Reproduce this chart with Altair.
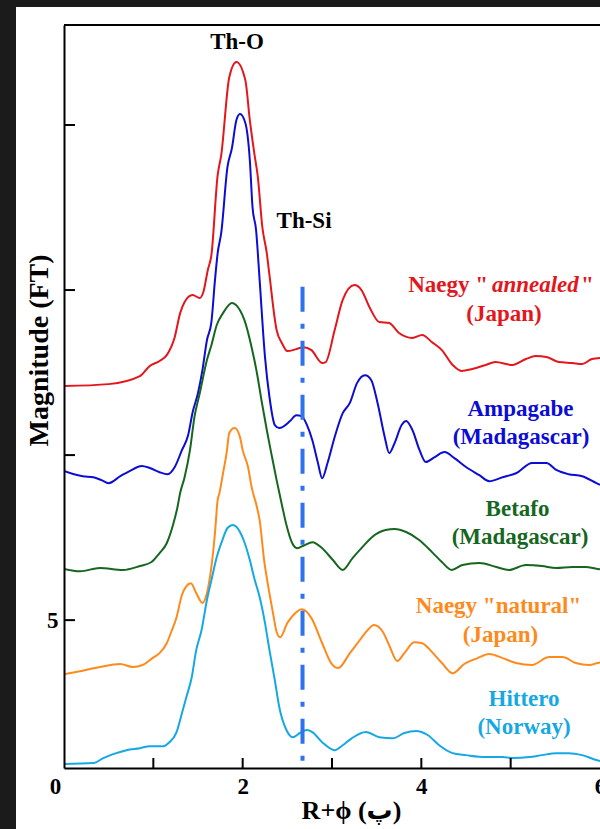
import altair as alt
import pandas as pd

# Fourier-transform magnitudes (stacked with vertical offsets) versus R + phi
annealed_r = [0.0, 0.5, 0.85, 0.96, 1.07, 1.15, 1.24, 1.30, 1.35, 1.44, 1.52, 1.56, 1.61, 1.65, 1.72, 1.76, 1.85, 1.93, 2.03, 2.08,
              2.13, 2.17, 2.22, 2.27, 2.30, 2.38, 2.44, 2.50, 2.60, 2.68, 2.77, 2.89, 2.93, 3.03, 3.12, 3.25, 3.33, 3.42, 3.53, 3.64,
              3.75, 3.90, 4.01, 4.12, 4.23, 4.35, 4.45, 4.57, 4.72, 4.83, 5.02, 5.17, 5.28, 5.40, 5.54, 5.69, 5.80, 5.91, 6.0]
annealed_mag = [12.09, 12.15, 12.39, 12.70, 12.85, 13.03, 13.58, 14.30, 14.64, 14.85, 14.76, 14.94, 15.61, 16.06, 18.48, 19.09, 21.45, 21.91, 21.36, 20.15,
                19.15, 18.42, 16.91, 16.12, 15.45, 13.79, 13.39, 13.15, 13.21, 13.27, 13.18, 12.79, 12.82, 13.79, 14.70, 15.15, 15.00, 14.48, 14.03, 14.00,
                13.70, 13.55, 13.64, 13.42, 13.18, 12.73, 12.55, 12.61, 12.73, 12.82, 12.73, 12.91, 13.00, 12.97, 12.82, 12.79, 12.76, 12.91, 12.94]

ampagabe_r = [0.0, 0.21, 0.33, 0.42, 0.5, 0.63, 0.74, 0.87, 0.96, 1.07, 1.16, 1.24, 1.32, 1.39, 1.44, 1.5, 1.55, 1.6, 1.65, 1.69,
              1.72, 1.76, 1.83, 1.88, 1.93, 1.97, 2.03, 2.08, 2.11, 2.15, 2.19, 2.25, 2.3, 2.36, 2.41, 2.53, 2.6, 2.66, 2.72, 2.78,
              2.84, 2.89, 2.95, 3.03, 3.12, 3.2, 3.28, 3.37, 3.44, 3.51, 3.59, 3.64, 3.7, 3.78, 3.83, 3.9, 3.98, 4.05, 4.15, 4.26,
              4.37, 4.5, 4.65, 4.76, 4.91, 5.06, 5.24, 5.4, 5.51, 5.65, 5.8, 5.96, 6.0]
ampagabe_mag = [9.52, 9.36, 9.33, 9.24, 9.15, 9.36, 9.52, 9.67, 9.61, 9.48, 9.42, 9.64, 10.15, 10.61, 11.30, 11.88, 12.58, 13.48, 14.03, 15.30,
                16.12, 16.73, 18.73, 19.30, 20.15, 20.33, 20.06, 18.94, 17.52, 16.82, 15.30, 12.97, 11.76, 10.91, 10.82, 11.03, 11.21, 11.18, 10.91, 10.45,
                9.79, 9.30, 9.76, 10.55, 11.27, 11.58, 12.18, 12.42, 12.27, 11.58, 10.55, 10.06, 10.36, 10.91, 11.03, 10.76, 10.15, 9.79, 9.94, 10.09,
                9.91, 9.64, 9.39, 9.21, 9.33, 9.45, 9.76, 9.76, 9.55, 9.42, 9.36, 9.15, 9.10]

betafo_r = [0.0, 0.18, 0.4, 0.66, 0.85, 0.98, 1.07, 1.15, 1.22, 1.27, 1.3, 1.35, 1.41, 1.46, 1.52, 1.6, 1.65, 1.71, 1.78, 1.88,
            1.97, 2.02, 2.1, 2.16, 2.21, 2.27, 2.32, 2.38, 2.44, 2.49, 2.55, 2.61, 2.69, 2.78, 2.89, 3.01, 3.12, 3.23, 3.34, 3.45,
            3.6, 3.7, 3.83, 3.98, 4.12, 4.23, 4.34, 4.46, 4.65, 4.84, 4.98, 5.17, 5.35, 5.51, 5.69, 5.84, 5.97, 6.0]
betafo_mag = [6.55, 6.48, 6.58, 6.52, 6.64, 6.76, 7.03, 7.33, 7.88, 8.42, 8.85, 9.33, 10.15, 11.15, 11.88, 12.88, 13.33, 13.94, 14.30, 14.61,
              14.39, 14.09, 13.27, 12.48, 11.67, 10.76, 10.06, 9.24, 8.48, 7.88, 7.36, 7.18, 7.27, 7.36, 7.18, 6.82, 6.52, 6.88, 7.21, 7.52,
              7.73, 7.76, 7.67, 7.42, 7.06, 6.76, 6.52, 6.67, 6.73, 6.61, 6.52, 6.67, 6.64, 6.58, 6.61, 6.61, 6.55, 6.54]

natural_r = [0.0, 0.18, 0.4, 0.63, 0.77, 0.88, 0.99, 1.07, 1.15, 1.2, 1.26, 1.32, 1.37, 1.42, 1.48, 1.55, 1.6, 1.65, 1.69, 1.72,
             1.74, 1.78, 1.82, 1.85, 1.91, 1.97, 2.0, 2.06, 2.1, 2.16, 2.19, 2.24, 2.28, 2.34, 2.38, 2.42, 2.5, 2.6, 2.66, 2.77,
             2.89, 2.99, 3.07, 3.2, 3.31, 3.4, 3.47, 3.57, 3.64, 3.73, 3.81, 3.92, 4.01, 4.12, 4.23, 4.35, 4.48, 4.63, 4.76, 4.91,
             5.06, 5.24, 5.43, 5.58, 5.73, 5.88, 5.97, 6.0]
natural_mag = [3.36, 3.45, 3.58, 3.67, 3.58, 3.64, 3.85, 4.0, 4.30, 4.64, 5.09, 5.76, 6.03, 6.12, 5.82, 5.52, 5.82, 6.61, 7.64, 8.64,
               8.85, 9.45, 10.06, 10.67, 10.82, 10.55, 10.15, 9.64, 9.03, 8.42, 8.03, 6.82, 6.12, 5.21, 4.64, 4.48, 4.91, 5.24, 5.33, 5.06,
               4.30, 3.70, 3.55, 4.0, 4.39, 4.70, 4.85, 4.64, 4.24, 3.76, 4.0, 4.33, 4.30, 4.03, 3.70, 3.39, 3.67, 3.85, 3.97, 3.85,
               3.70, 3.64, 3.88, 3.88, 3.70, 3.64, 3.70, 3.72]

hittero_r = [0.0, 0.33, 0.44, 0.55, 0.7, 0.85, 0.96, 1.11, 1.18, 1.26, 1.32, 1.37, 1.43, 1.48, 1.54, 1.6, 1.65, 1.71, 1.78, 1.83,
             1.89, 1.97, 2.02, 2.08, 2.13, 2.19, 2.25, 2.3, 2.36, 2.41, 2.49, 2.56, 2.64, 2.72, 2.78, 2.89, 3.03, 3.12, 3.22, 3.38,
             3.53, 3.68, 3.81, 3.94, 4.07, 4.2, 4.35, 4.5, 4.72, 4.91, 5.02, 5.21, 5.35, 5.51, 5.65, 5.8, 5.96, 6.0]
hittero_mag = [0.64, 0.67, 0.82, 0.94, 1.06, 1.12, 1.18, 1.18, 1.30, 1.61, 2.18, 2.67, 3.27, 4.09, 4.70, 5.61, 6.21, 6.91, 7.48, 7.79,
               7.88, 7.67, 7.36, 6.82, 6.27, 5.70, 4.91, 4.09, 3.18, 2.36, 1.67, 1.45, 1.58, 1.67, 1.61, 1.30, 1.06, 1.21, 1.42, 1.61,
               1.45, 1.42, 1.58, 1.64, 1.52, 1.21, 0.97, 0.91, 0.85, 0.85, 0.82, 0.85, 0.91, 0.97, 0.97, 0.91, 0.76, 0.73]

samples = ["Naegy annealed", "Ampagabe", "Betafo", "Naegy natural", "Hittero"]
sample_colors = ["#e3161c", "#0c0cd4", "#16661f", "#ff8a1c", "#16a8e4"]

x_labels = [0, 2, 4, 6]
x_ticks = [1, 2, 3, 4, 5]
y_labels = [5]
y_ticks = [5, 10, 15, 20]
y_domain = [0.52, 23.03]

th_si_r = 2.67          # Th-Si distance marker
th_si_top = 15.1

W, H = 536, 743
SERIF = "Liberation Serif"
INK = "black"

frames = []
for name, rs, ms in [("Naegy annealed", annealed_r, annealed_mag), ("Ampagabe", ampagabe_r, ampagabe_mag),
                     ("Betafo", betafo_r, betafo_mag), ("Naegy natural", natural_r, natural_mag),
                     ("Hittero", hittero_r, hittero_mag)]:
    frames.append(pd.DataFrame({"sample": name, "r": rs, "mag": ms}))
spectra = pd.concat(frames, ignore_index=True)

x_scale = alt.Scale(domain=[0, 6], nice=False, zero=False)
y_scale = alt.Scale(domain=y_domain, nice=False, zero=False)

# one axis definition shared by every layer so the merged axes stay intact
x_axis = alt.Axis(values=x_labels, ticks=False, grid=False, domainColor=INK, domainWidth=2,
                  labelFont=SERIF, labelFontSize=23, labelFontWeight="bold", labelColor=INK,
                  labelPadding=7, labelFlush=False, labelOverlap=False, zindex=2,
                  labelOffset={"condition": {"test": "datum.value == 0", "value": -9}, "value": 0},
                  titleFont=SERIF + ", DejaVu Sans", titleFontSize=26,
                  titleFontWeight="bold", titleColor=INK, titleX=287, titleY=42,
                  titleAlign="center", titleBaseline="middle")
y_axis = alt.Axis(values=y_labels, ticks=False, grid=False, domainColor=INK, domainWidth=2,
                  labelFont=SERIF, labelFontSize=23, labelFontWeight="bold", labelColor=INK,
                  labelPadding=6, zindex=2,
                  titleFont=SERIF, titleFontSize=28, titleFontWeight="bold",
                  titleColor=INK, titleX=-25, titleY=325, titleAlign="center",
                  titleBaseline="middle", titleAngle=270)
X_TITLE = "R+ϕ (پ)"
Y_TITLE = "Magnitude (FT)"


def xq(field):
    return alt.X(f"{field}:Q", scale=x_scale, axis=x_axis, title=X_TITLE)


def yq(field):
    return alt.Y(f"{field}:Q", scale=y_scale, axis=y_axis, title=Y_TITLE)


# white card behind the plot
card = alt.Chart(alt.Data(values=[{}])).mark_rect(color="white").encode(
    x=alt.value(-48), x2=alt.value(W), y=alt.value(-18), y2=alt.value(H + 61)
)

lines = alt.Chart(spectra).mark_line(strokeWidth=2, clip=True, interpolate="monotone").encode(
    x=xq("r"),
    y=yq("mag"),
    color=alt.Color("sample:N", scale=alt.Scale(domain=samples, range=sample_colors), legend=None),
)

ytick_rules = alt.Chart(pd.DataFrame({"mag": y_ticks})).mark_rule(color=INK, strokeWidth=2).encode(
    y=yq("mag"), x=alt.value(0), x2=alt.value(11)
)
xtick_rules = alt.Chart(pd.DataFrame({"r": x_ticks})).mark_rule(color=INK, strokeWidth=2).encode(
    x=xq("r"), y=alt.value(H), y2=alt.value(H - 10)
)
top_edge = alt.Chart(alt.Data(values=[{}])).mark_rule(color=INK, strokeWidth=2).encode(
    x=alt.value(0), x2=alt.value(W), y=alt.value(0)
)

marker = alt.Chart(pd.DataFrame({"r": [th_si_r], "mag": [th_si_top], "bottom": [y_domain[0]]})).mark_rule(
    color="#2e72ef", strokeWidth=4, strokeDash=[25, 12, 5, 12]
).encode(
    x=xq("r"),
    y=yq("mag"),
    y2="bottom:Q",
)

notes_center = pd.DataFrame([
    {"text": "Th-O", "r": 1.937, "mag": 22.53, "color": INK},
    {"text": "Th-Si", "r": 2.687, "mag": 17.09, "color": INK},
    {"text": "(Japan)", "r": 4.926, "mag": 14.27, "color": sample_colors[0]},
    {"text": "Ampagabe", "r": 5.11, "mag": 11.41, "color": sample_colors[1]},
    {"text": "(Madagascar)", "r": 5.116, "mag": 10.55, "color": sample_colors[1]},
    {"text": "Betafo", "r": 5.077, "mag": 8.37, "color": sample_colors[2]},
    {"text": "(Madagascar)", "r": 5.105, "mag": 7.52, "color": sample_colors[2]},
    {"text": "Naegy \"natural\"", "r": 4.864, "mag": 5.42, "color": sample_colors[3]},
    {"text": "(Japan)", "r": 4.886, "mag": 4.55, "color": sample_colors[3]},
    {"text": "Hittero", "r": 5.15, "mag": 2.61, "color": sample_colors[4]},
    {"text": "(Norway)", "r": 5.15, "mag": 1.76, "color": sample_colors[4]},
])
notes_right = pd.DataFrame([{"text": "Naegy \"", "r": 4.746, "mag": 15.15, "color": sample_colors[0]}])
notes_italic = pd.DataFrame([{"text": "annealed", "r": 4.79, "mag": 15.15, "color": sample_colors[0]}])
notes_left = pd.DataFrame([{"text": "\"", "r": 5.787, "mag": 15.15, "color": sample_colors[0]}])


def note_layer(df, align="center", style="normal"):
    return alt.Chart(df).mark_text(
        align=align, baseline="middle", font=SERIF, fontSize=23, fontWeight="bold", fontStyle=style
    ).encode(
        x=xq("r"),
        y=yq("mag"),
        text="text:N",
        color=alt.Color("color:N", scale=None),
    )


chart = alt.layer(
    card, lines, marker, ytick_rules, xtick_rules, top_edge,
    note_layer(notes_center), note_layer(notes_right, "right"),
    note_layer(notes_italic, "left", "italic"), note_layer(notes_left, "left"),
).properties(
    width=W, height=H,
    padding={"left": 64, "top": 25, "right": 0, "bottom": 61},
    autosize=alt.AutoSizeParams(type="none"),
    background="#1b1b1b",
).configure_view(stroke=None)

chart.save("out.html", embed_options={"renderer": "svg", "actions": False})
